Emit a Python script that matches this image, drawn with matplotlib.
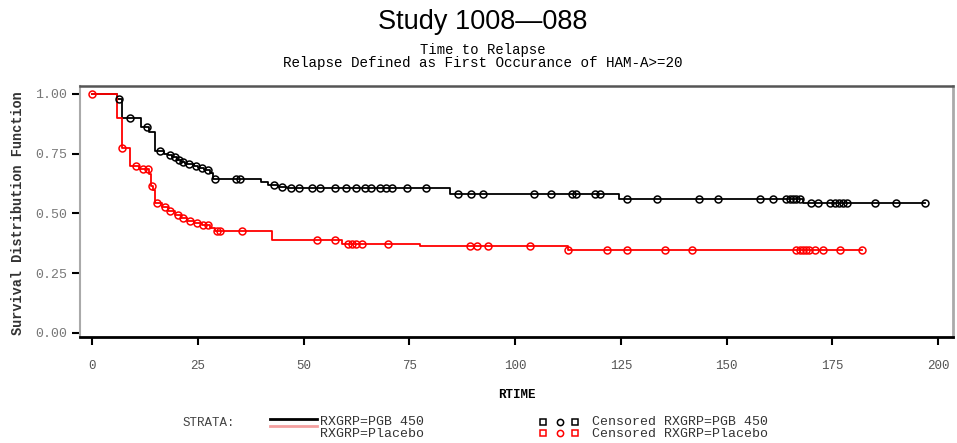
import matplotlib
matplotlib.use("Agg")
import matplotlib.pyplot as plt
import numpy as np
from matplotlib.lines import Line2D

MONO = ["Liberation Mono", "DejaVu Sans Mono"]

# Kaplan-Meier step curve, PGB 450 arm
pgb_times = [0, 6.0, 7.0, 11.5, 13.5, 15.0, 17.0, 18.0, 19.0, 20.0, 21.0, 22.0,
             24.0, 25.0, 26.5, 28.0, 28.5, 40.0, 41.5, 44.0, 46.0, 84.5, 124.5, 168.0]
pgb_surv = [1.0, 0.98, 0.90, 0.86, 0.84, 0.76, 0.75, 0.745, 0.735, 0.725, 0.715, 0.705,
            0.70, 0.69, 0.68, 0.67, 0.645, 0.632, 0.62, 0.612, 0.607, 0.582, 0.560, 0.542]
pgb_end = 197.0
pgb_censor = [6.3, 9.0, 13.0, 16.0, 18.5, 19.5, 20.5, 21.5, 23.0, 24.5, 26.0, 27.5,
              29.0, 34.0, 35.0, 43.0, 45.0, 47.0, 49.0, 52.0, 54.0, 57.5, 60.0, 62.5,
              64.5, 66.0, 68.0, 69.5, 71.0, 74.5, 79.0, 86.5, 89.5, 92.5, 104.5, 108.5,
              113.5, 114.5, 119.0, 120.0, 126.5, 133.5, 143.5, 148.0, 158.0, 161.0,
              164.0, 165.0, 165.8, 166.5, 167.3, 170.0, 171.5, 174.5, 175.5, 176.5,
              177.5, 178.5, 185.0, 190.0, 197.0]

# Placebo arm
plc_times = [0, 6.0, 7.0, 9.0, 11.0, 13.5, 14.0, 14.5, 15.0, 16.5, 18.0, 19.5,
             21.0, 22.5, 24.0, 26.0, 28.0, 29.0, 42.5, 59.0, 77.5, 112.5]
plc_surv = [1.0, 0.90, 0.775, 0.70, 0.685, 0.665, 0.615, 0.60, 0.545, 0.525, 0.51, 0.495,
            0.48, 0.468, 0.458, 0.45, 0.44, 0.428, 0.388, 0.374, 0.362, 0.346]
plc_end = 182.0
plc_censor = [0.0, 7.0, 10.5, 12.0, 13.3, 14.2, 15.3, 17.3, 18.5, 20.4, 21.6, 23.2,
              24.7, 26.3, 27.5, 29.5, 30.3, 35.4, 53.1, 57.4, 60.5, 61.5, 62.5, 63.8,
              70.0, 89.4, 91.0, 93.5, 103.5, 112.5, 121.7, 126.4, 135.5, 141.8, 166.5,
              167.3, 168.0, 168.8, 169.5, 171.0, 172.8, 176.8, 182.0]

x_ticks = [0, 25, 50, 75, 100, 125, 150, 175, 200]
y_ticks = [0.00, 0.25, 0.50, 0.75, 1.00]


def km_curve(ax, times, surv, end, censor, color):
    t = np.array(times + [end])
    s = np.array(surv + [surv[-1]])
    ax.step(t, s, where="post", color=color, lw=1.3, zorder=2)
    idx = np.searchsorted(times, censor, side="right") - 1
    ax.plot(censor, np.array(surv)[idx], ls="none", marker="o", ms=5,
            mfc="none", mec=color, mew=1.1, zorder=3)


fig = plt.figure(figsize=(9.57, 4.43), dpi=100)
ax = fig.add_axes([80 / 957, 1 - 337 / 443, 873 / 957, 251 / 443])

km_curve(ax, pgb_times, pgb_surv, pgb_end, pgb_censor, "black")
km_curve(ax, plc_times, plc_surv, plc_end, plc_censor, "#ff0000")

ax.set_xlim(-2.84, 203.5)
ax.set_ylim(-0.017, 1.033)
ax.set_xticks(x_ticks)
ax.set_xticklabels([str(v) for v in x_ticks], family=MONO, fontsize=9, color="#555555")
ax.set_yticks(y_ticks)
ax.set_yticklabels([f"{v:.2f}" for v in y_ticks], family=MONO, fontsize=9.5, color="#777777")
ax.tick_params(axis="both", direction="out", length=6, width=1.5, color="black")
ax.tick_params(axis="y", pad=3)
ax.tick_params(axis="x", pad=10.5)

for side, col, lw in [("left", "#aaaaaa", 1.5), ("top", "#555555", 1.8),
                      ("right", "#aaaaaa", 2.0), ("bottom", "black", 2.0)]:
    ax.spines[side].set_color(col)
    ax.spines[side].set_linewidth(lw)

ax.set_xlabel("RTIME", family=MONO, fontsize=9, fontweight="bold", labelpad=12)
fig.text(18 / 957, 1 - 213 / 443, "Survival Distribution Function", rotation=90,
         ha="center", va="center", family=MONO, fontsize=9.8, fontweight="bold",
         color="#333333")

# titles
fig.text(483 / 957, 1 - 22 / 443, "Study 1008\u2014088", ha="center", va="center",
         family=["Liberation Sans", "DejaVu Sans"], fontsize=19.5)
fig.text(483 / 957, 1 - 50 / 443, "Time to Relapse", ha="center", va="center",
         family=MONO, fontsize=10)
fig.text(483 / 957, 1 - 63 / 443, "Relapse Defined as First Occurance of HAM-A>=20",
         ha="center", va="center", family=MONO, fontsize=10.3)

# legend, drawn by hand in figure pixels
def px(x, y):
    return x / 957, 1 - y / 443


fig.text(*px(183, 423), "STRATA:", ha="left", va="center", family=MONO, fontsize=9,
         color="#444444")
fig.add_artist(Line2D([270 / 957, 317 / 957], [1 - 419 / 443] * 2, color="black",
                      lw=2, transform=fig.transFigure))
fig.add_artist(Line2D([270 / 957, 317 / 957], [1 - 426 / 443] * 2, color="#f4a0a0",
                      lw=2, transform=fig.transFigure))
fig.text(*px(320, 422), "RXGRP=PGB 450", ha="left", va="center", family=MONO,
         fontsize=9.5, color="#333333")
fig.text(*px(320, 434), "RXGRP=Placebo", ha="left", va="center", family=MONO,
         fontsize=9.5, color="#333333")

for y, col in [(422, "black"), (433, "#ff0000")]:
    for x, m in [(543, "s"), (560, "o"), (575, "s")]:
        fig.add_artist(Line2D([x / 957], [1 - y / 443], marker=m, ms=4.5, mfc="none",
                              mec=col, mew=1.1, ls="none", transform=fig.transFigure))
fig.text(*px(592, 422), "Censored RXGRP=PGB 450", ha="left", va="center",
         family=MONO, fontsize=9.5, color="#333333")
fig.text(*px(592, 434), "Censored RXGRP=Placebo", ha="left", va="center",
         family=MONO, fontsize=9.5, color="#333333")

fig.savefig("out.png", dpi=100)
